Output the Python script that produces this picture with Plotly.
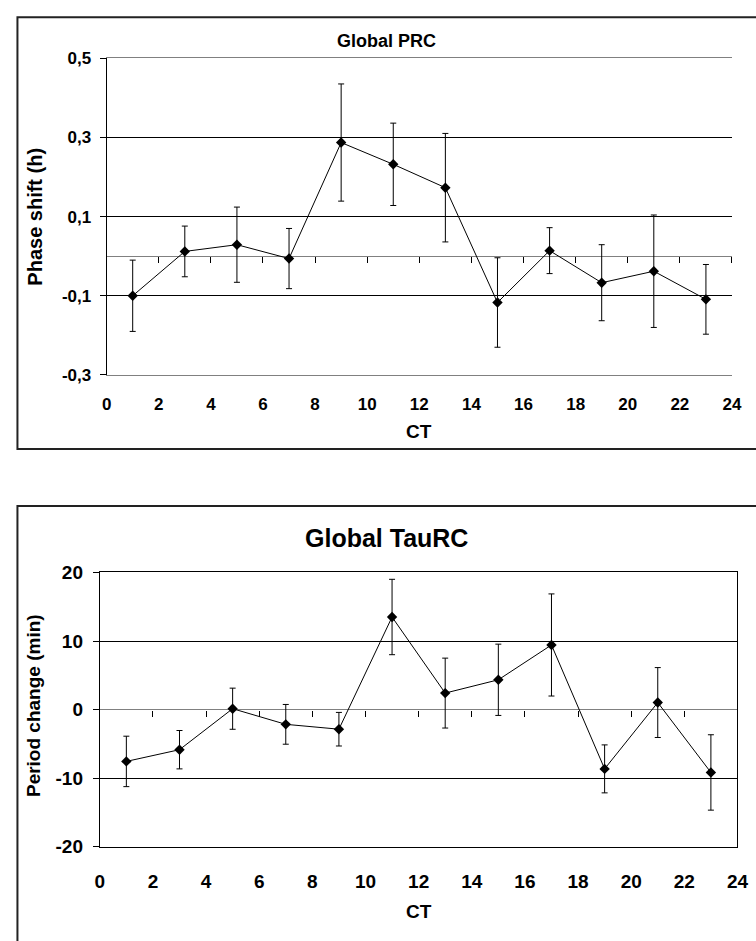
import plotly.graph_objects as go

# ---------------- data ----------------
ct = [1, 3, 5, 7, 9, 11, 13, 15, 17, 19, 21, 23]

prc_shift = [-0.100, 0.012, 0.029, -0.006, 0.287, 0.232, 0.173, -0.117, 0.014, -0.067, -0.038, -0.109]
prc_err = [0.090, 0.064, 0.095, 0.076, 0.148, 0.104, 0.137, 0.113, 0.058, 0.096, 0.142, 0.088]

tau_change = [-7.57, -5.86, 0.12, -2.16, -2.87, 13.5, 2.4, 4.34, 9.42, -8.66, 1.02, -9.18]
tau_err = [3.68, 2.80, 3.00, 2.90, 2.45, 5.50, 5.10, 5.20, 7.45, 3.50, 5.10, 5.50]

x_ticks = [0, 2, 4, 6, 8, 10, 12, 14, 16, 18, 20, 22, 24]
x_ticktext = [str(v) for v in x_ticks]
prc_yticks = [-0.3, -0.1, 0.1, 0.3, 0.5]
prc_yticktext = ["-0,3", "-0,1", "0,1", "0,3", "0,5"]
tau_yticks = [-20, -10, 0, 10, 20]
tau_yticktext = ["-20", "-10", "0", "10", "20"]

prc_range = [-0.3, 0.5]
tau_range = [-20, 20]
x_range = [0, 24]

# ---------------- layout geometry ----------------
W, H = 756, 941
FONT = "Liberation Sans, Arial, sans-serif"

top_dom_x = [103.7 / W, 741.7 / W]
top_dom_y = [1 - 373.3 / H, 1 - 49.3 / H]
bot_dom_x = [96.7 / W, 747.3 / W]
bot_dom_y = [1 - 855.7 / H, 1 - 575.3 / H]


def zero_pos(dom, rng):
    f = (0 - rng[0]) / (rng[1] - rng[0])
    return dom[0] + f * (dom[1] - dom[0])


fig = go.Figure()

fig.add_trace(go.Scatter(
    x=ct, y=prc_shift, xaxis="x", yaxis="y", mode="lines+markers",
    line=dict(color="black", width=1),
    marker=dict(symbol="diamond", size=8, color="black"),
    error_y=dict(type="data", array=prc_err, visible=True, color="black", thickness=1, width=3),
    showlegend=False, cliponaxis=False, hoverinfo="x+y",
))
# invisible companion trace so the zero-crossing tick axis is rendered
fig.add_trace(go.Scatter(
    x=ct, y=prc_shift, xaxis="x3", yaxis="y", mode="markers",
    marker=dict(opacity=0), showlegend=False, hoverinfo="skip",
))

fig.add_trace(go.Scatter(
    x=ct, y=tau_change, xaxis="x2", yaxis="y2", mode="lines+markers",
    line=dict(color="black", width=1),
    marker=dict(symbol="diamond", size=8, color="black"),
    error_y=dict(type="data", array=tau_err, visible=True, color="black", thickness=1, width=3),
    showlegend=False, cliponaxis=False, hoverinfo="x+y",
))
fig.add_trace(go.Scatter(
    x=ct, y=tau_change, xaxis="x4", yaxis="y2", mode="markers",
    marker=dict(opacity=0), showlegend=False, hoverinfo="skip",
))

tick_font_top = dict(family=FONT, size=17, color="black", weight="bold")
tick_font_bot = dict(family=FONT, size=19, color="black", weight="bold")

fig.update_layout(
    width=W, height=H, autosize=False,
    margin=dict(l=0, r=0, t=0, b=0),
    paper_bgcolor="white", plot_bgcolor="white",
    font=dict(family=FONT, color="black"),
    separators=", ",
    # top chart
    xaxis=dict(domain=top_dom_x, anchor="y", range=x_range, tickmode="array",
               tickvals=x_ticks, ticktext=x_ticktext, ticks="", showgrid=False,
               showline=True, linecolor="#808080", linewidth=1, mirror=True,
               zeroline=False, tickfont=tick_font_top, ticklabelstandoff=14),
    yaxis=dict(domain=top_dom_y, anchor="x", range=prc_range, tickmode="array",
               tickvals=prc_yticks, ticktext=prc_yticktext, ticks="outside",
               ticklen=6, tickcolor="black", showgrid=True, gridcolor="black", gridwidth=1,
               showline=True, linecolor="black", linewidth=1, mirror=False,
               zeroline=True, zerolinecolor="#808080", zerolinewidth=1,
               tickfont=tick_font_top, ticklabelstandoff=5),
    xaxis3=dict(overlaying="x", anchor="free", position=zero_pos(top_dom_y, prc_range),
                range=x_range, tickmode="array", tickvals=x_ticks, showticklabels=False,
                ticks="outside", ticklen=6, tickcolor="black", showgrid=False,
                showline=False, zeroline=False),
    # bottom chart
    xaxis2=dict(domain=bot_dom_x, anchor="y2", range=x_range, tickmode="array",
                tickvals=x_ticks, ticktext=x_ticktext, ticks="", showgrid=False,
                showline=True, linecolor="black", linewidth=1, mirror=True,
                zeroline=False, tickfont=tick_font_bot, ticklabelstandoff=18),
    yaxis2=dict(domain=bot_dom_y, anchor="x2", range=tau_range, tickmode="array",
                tickvals=tau_yticks, ticktext=tau_yticktext, ticks="outside",
                ticklen=6, tickcolor="black", showgrid=True, gridcolor="black", gridwidth=1,
                showline=True, linecolor="black", linewidth=1, mirror=True,
                zeroline=True, zerolinecolor="#808080", zerolinewidth=1,
                tickfont=tick_font_bot, ticklabelstandoff=6),
    xaxis4=dict(overlaying="x2", anchor="free", position=zero_pos(bot_dom_y, tau_range),
                range=x_range, tickmode="array", tickvals=x_ticks, showticklabels=False,
                ticks="outside", ticklen=6, tickcolor="black", showgrid=False,
                showline=False, zeroline=False),
)

# chart-area frames (open on the sides that run off the page)
L = 12.7
top_frame = f"M {800} {7.3} L {L} {7.3} L {L} {449} L {800} {449}"
bot_frame = f"M {800} {507.3} L {L} {507.3} L {L} {1000}"


def to_paper_path(p):
    toks = p.split()
    out = []
    i = 0
    while i < len(toks):
        if toks[i] in ("M", "L"):
            out.append(toks[i])
            out.append(f"{float(toks[i + 1]) / W:.5f},{1 - float(toks[i + 2]) / H:.5f}")
            i += 3
        else:
            i += 1
    return " ".join(out)


for p in (top_frame, bot_frame):
    fig.add_shape(type="path", xref="paper", yref="paper", path=to_paper_path(p),
                  line=dict(color="#222222", width=2), layer="below")

ann = [
    dict(text="<b>Global PRC</b>", x=389 / W, y=1 - 32 / H, size=18, angle=0),
    dict(text="<b>Global TauRC</b>", x=389 / W, y=1 - 540.5 / H, size=25, angle=0),
    dict(text="<b>CT</b>", x=422.5 / W, y=1 - 430.8 / H, size=19, angle=0),
    dict(text="<b>CT</b>", x=422 / W, y=1 - 922 / H, size=19, angle=0),
    dict(text="<b>Phase shift (h)</b>", x=31 / W, y=1 - 211 / H, size=20, angle=-90),
    dict(text="<b>Period change (min)</b>", x=29 / W, y=1 - 711.5 / H, size=19, angle=-90),
]
for a in ann:
    fig.add_annotation(text=a["text"], x=a["x"], y=a["y"], xref="paper", yref="paper",
                       xanchor="center", yanchor="middle", showarrow=False,
                       textangle=a["angle"],
                       font=dict(family=FONT, size=a["size"], color="black"))

fig.write_html("out.html", post_script="document.body.style.margin='0';")
